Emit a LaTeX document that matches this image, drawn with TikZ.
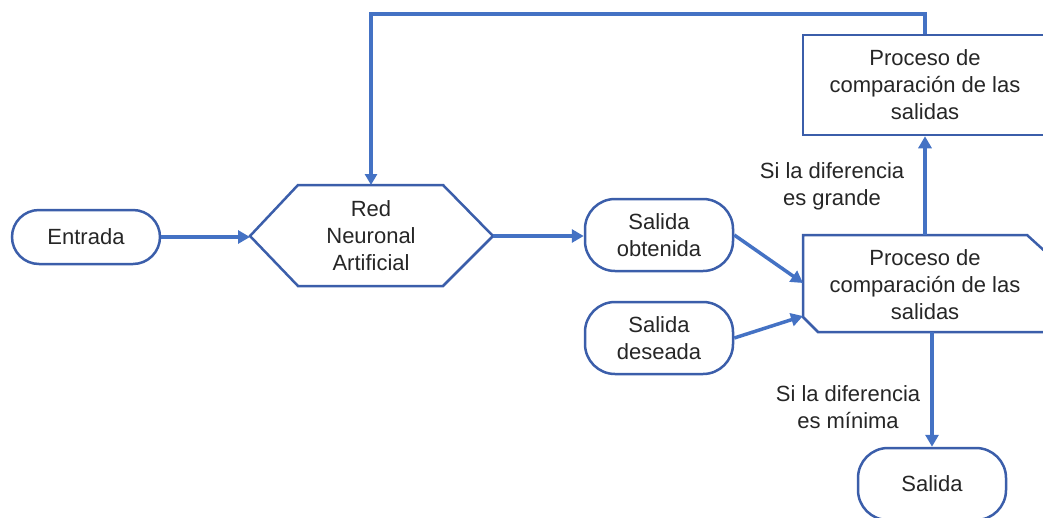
\documentclass[tikz,border=0pt]{standalone}
\usepackage{fontspec}
\setmainfont{Liberation Sans}
\usetikzlibrary{arrows.meta}
\definecolor{arr}{RGB}{68,114,196}
\definecolor{bord}{RGB}{59,94,170}
\definecolor{txt}{RGB}{38,38,38}
\begin{document}
\begin{tikzpicture}[x=1pt,y=-1pt,
  font=\fontsize{22}{27}\selectfont,
  every node/.style={text=txt, align=center},
  term/.style={draw=bord, line width=2.5pt, rounded corners=30pt, minimum width=148pt, minimum height=72pt, inner sep=0pt},
  shapeline/.style={draw=bord, line width=2.5pt, line join=miter},
  arrowline/.style={draw=arr, line width=3.5pt, -{Triangle[length=12pt,width=13pt]}},
  lbl/.style={inner sep=0pt}]
\useasboundingbox (0,0) rectangle (1043,517);
\clip (0,0) rectangle (1043,517);
% Entrada
\node[term, minimum height=54pt, rounded corners=27pt] (entrada) at (86,237) {Entrada};
% Red Neuronal Artificial (hexagon)
\coordinate (rnaL) at (250,236);
\coordinate (rnaR) at (493,236);
\coordinate (rnaT) at (371,185);
\draw[shapeline] (rnaL) -- (298,185) -- (443,185) -- (rnaR) -- (443,286) -- (298,286) -- cycle;
\node (rna) at (371,236) {Red\\Neuronal\\Artificial};
% Salidas
\node[term] (obt) at (659,235) {Salida\\obtenida};
\node[term] (des) at (659,338) {Salida\\deseada};
% lower comparison box
\coordinate (cmpT) at (925,235);
\coordinate (cmpB) at (932,332);
\coordinate (cmpL1) at (803,283);
\coordinate (cmpL2) at (803,316);
\draw[shapeline] (803,235) -- (1027,235) -- (1049,255) -- (1049,332) -- (818,332) -- (803,317) -- cycle;
\node (cmp) at (925,285) {Proceso de\\comparación de las\\salidas};
% upper comparison box
\node[draw=bord, line width=2.5pt, minimum width=244pt, minimum height=100pt, inner sep=0pt] (cmp2) at (925,85) {Proceso de\\comparación de las\\salidas};
% final Salida
\node[term] (salida) at (932,484) {Salida};
% connectors
\draw[arrowline] (entrada.east) -- (entrada.east -| rnaL);
\draw[arrowline] (rnaR) -- (rnaR -| obt.west);
\draw[arrowline] (obt.east) -- (cmpL1);
\draw[arrowline] (des.east) -- (cmpL2);
\draw[arrowline] (cmpT) -- (cmp2.south);
\draw[arrowline] (cmpB) -- (salida.north);
\draw[arrowline, -{Triangle[length=11pt,width=12pt]}] (cmp2.north) -- ++(0,-20) -| (rnaT);
% labels
\node[lbl] (lg) at (832,186) {Si la diferencia\\es grande};
\node[lbl] (lm) at (848,407) {Si la diferencia\\es mínima};
\end{tikzpicture}
\end{document}
